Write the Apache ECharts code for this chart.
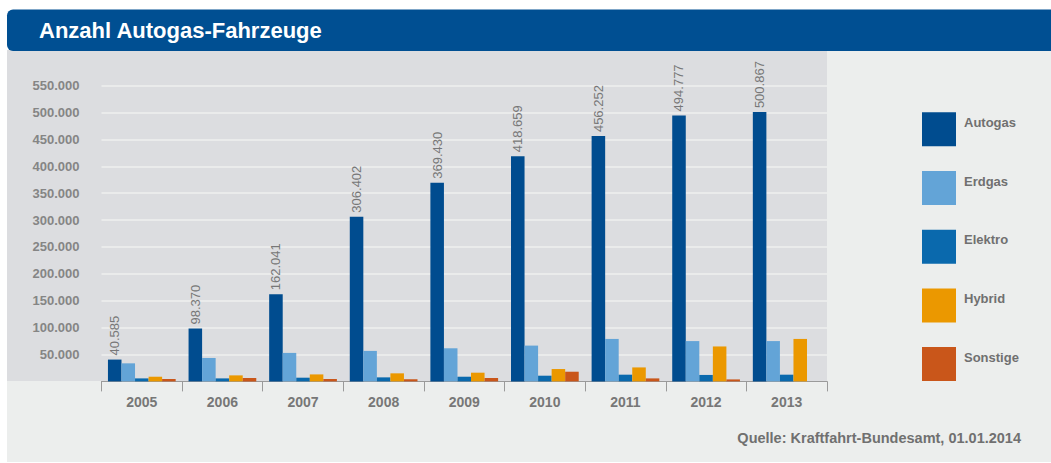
<!DOCTYPE html>
<html>
<head>
<meta charset="utf-8">
<script src="https://cdn.jsdelivr.net/npm/echarts@6/dist/echarts.min.js"></script>
<style>
html,body{margin:0;padding:0;background:#ffffff;}
#chart{width:1051px;height:463px;}
</style>
</head>
<body>
<div id="chart"></div>
<script>
// ---- data ----
var years = ['2005', '2006', '2007', '2008', '2009', '2010', '2011', '2012', '2013'];
var seriesNames = ['Autogas', 'Erdgas', 'Elektro', 'Hybrid', 'Sonstige'];
var autogas  = [40585, 98370, 162041, 306402, 369430, 418659, 456252, 494777, 500867];
var erdgas   = [33600, 43600, 53000, 56700, 61600, 66600, 79000, 75000, 75000];
var elektro  = [5600, 5600, 6900, 7500, 8700, 10600, 12500, 12000, 12500];
var hybrid   = [8700, 11200, 13000, 15000, 16200, 23000, 26000, 65000, 79000];
var sonstige = [4500, 6300, 4500, 4000, 6300, 18000, 5600, 3700, 0];
var yTicks = [0, 50000, 100000, 150000, 200000, 250000, 300000, 350000, 400000, 450000, 500000, 550000];
var titleText = 'Anzahl Autogas-Fahrzeuge';
var sourceText = 'Quelle: Kraftfahrt-Bundesamt, 01.01.2014';

var colors = ['#004c8f', '#63a4d7', '#0a69ad', '#eb9800', '#c9561a'];
var FONT = '"Liberation Sans", Arial, Helvetica, sans-serif';

function de(v) {
  return String(v).replace(/\B(?=(\d{3})+(?!\d))/g, '.');
}

var chart = echarts.init(document.getElementById('chart'), null, {renderer: 'svg'});

var values = [autogas, erdgas, elektro, hybrid, sonstige];
var series = seriesNames.map(function (name, i) {
  var s = {
    name: name,
    type: 'bar',
    data: values[i],
    barGap: 0,
    barCategoryGap: '16%',
    itemStyle: {color: colors[i]},
    emphasis: {disabled: true}
  };
  if (i === 0) {
    s.label = {
      show: true,
      position: 'top',
      rotate: 90,
      align: 'left',
      verticalAlign: 'middle',
      distance: 4,
      color: '#777777',
      fontFamily: FONT,
      fontSize: 13,
      formatter: function (p) { return de(p.value); }
    };
  }
  return s;
});

var option = {
  animation: false,
  backgroundColor: '#ffffff',
  color: colors,
  graphic: [
    {type: 'rect', z: -10, silent: true, shape: {x: 7, y: 50, width: 1044, height: 412}, style: {fill: '#eceeed'}},
    {type: 'rect', z: -9, silent: true, shape: {x: 7, y: 50, width: 820, height: 331}, style: {fill: '#dcdde0'}},
    {type: 'rect', z: -8, silent: true, shape: {x: 7, y: 9.5, width: 1050, height: 41.5, r: [6, 0, 0, 6]}, style: {fill: '#004f92'}}
  ],
  title: [
    {
      text: titleText,
      left: 39,
      top: 19,
      padding: 0,
      textStyle: {color: '#ffffff', fontFamily: FONT, fontWeight: 'bold', fontSize: 22}
    },
    {
      text: sourceText,
      right: 30,
      top: 430,
      padding: 0,
      textStyle: {color: '#707070', fontFamily: FONT, fontWeight: 'bold', fontSize: 14.5}
    }
  ],
  legend: {
    orient: 'vertical',
    left: 922,
    top: 112.3,
    padding: 0,
    itemWidth: 34,
    itemHeight: 34,
    itemGap: 24.7,
    icon: 'rect',
    selectedMode: false,
    data: seriesNames,
    formatter: function (name) { return '{n|' + name + '}\n{s| }'; },
    textStyle: {
      color: '#707070', fontFamily: FONT, fontWeight: 'bold', fontSize: 13,
      rich: {
        n: {color: '#707070', fontFamily: FONT, fontWeight: 'bold', fontSize: 13, lineHeight: 15, padding: [0, 0, 0, 3]},
        s: {fontSize: 13, lineHeight: 14, height: 14}
      }
    }
  },
  grid: {left: 101.5, right: 224, top: 85.7, bottom: 81.6, containLabel: false},
  xAxis: {
    type: 'category',
    data: years,
    axisLine: {show: true, lineStyle: {color: '#9a9a9a', width: 1}},
    axisTick: {show: true, length: 10, lineStyle: {color: '#9a9a9a'}},
    axisLabel: {color: '#777777', fontFamily: FONT, fontWeight: 'bold', fontSize: 14, margin: 14}
  },
  yAxis: {
    type: 'value',
    min: yTicks[0],
    max: yTicks[yTicks.length - 1],
    interval: yTicks[1] - yTicks[0],
    axisLine: {show: false},
    axisTick: {show: false},
    splitLine: {show: true, lineStyle: {color: '#efefef', width: 1.5}},
    axisLabel: {
      color: '#858585',
      fontFamily: FONT,
      fontWeight: 'bold',
      fontSize: 13,
      margin: 22,
      formatter: function (v) { return v === 0 ? '' : de(v); }
    }
  },
  series: series
};

chart.setOption(option);
</script>
</body>
</html>
